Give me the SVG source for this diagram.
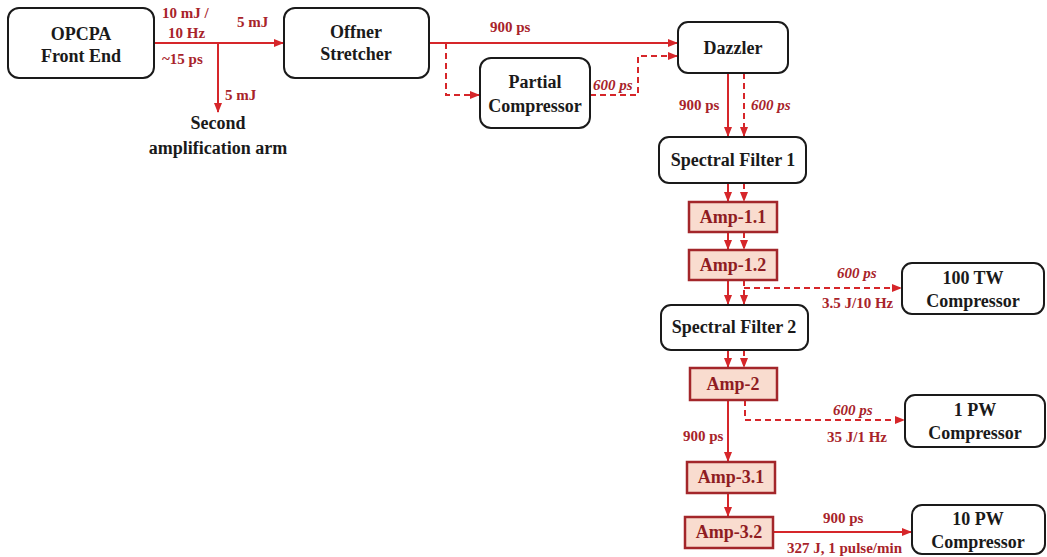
<svg xmlns="http://www.w3.org/2000/svg" width="1047" height="557" viewBox="0 0 1047 557">
<style>
.box{fill:#fff;stroke:#1a1a1a;stroke-width:2}
.amp{fill:#f9dccf;stroke:#a3262a;stroke-width:2.5}
text{font-family:'Liberation Serif','Times New Roman',Times,'DejaVu Serif',serif;font-weight:bold}
.nt{font-size:18px;fill:#1a1a1a;text-anchor:middle}
.at{font-size:18px;fill:#8f1c22;text-anchor:middle}
.lb{font-size:15px;fill:#a8232a}
.it{font-style:italic}
.s{fill:none;stroke:#d6262a;stroke-width:2}
.d{fill:none;stroke:#d6262a;stroke-width:2;stroke-dasharray:6 4}
</style>
<defs>
<marker id="ah" markerUnits="userSpaceOnUse" markerWidth="10" markerHeight="8" refX="9" refY="4" orient="auto">
<path d="M0,0 L10,4 L0,8 Z" fill="#d6262a"/>
</marker>
</defs>
<g id="connectors">
<path class="s" d="M154,43 H283" marker-end="url(#ah)"/>
<path class="s" d="M218,43 V112" marker-end="url(#ah)"/>
<path class="s" d="M429,43 H677" marker-end="url(#ah)"/>
<path class="d" d="M446,43 V95 H479" marker-end="url(#ah)"/>
<path class="d" d="M590,95 H638 V56 H677" marker-end="url(#ah)"/>
<path class="s" d="M728,73 V136" marker-end="url(#ah)"/>
<path class="d" d="M744,73 V136" marker-end="url(#ah)"/>
<path class="s" d="M728,183 V201" marker-end="url(#ah)"/>
<path class="d" d="M744,183 V201" marker-end="url(#ah)"/>
<path class="s" d="M728,232 V249" marker-end="url(#ah)"/>
<path class="d" d="M744,232 V249" marker-end="url(#ah)"/>
<path class="s" d="M728,280 V304" marker-end="url(#ah)"/>
<path class="d" d="M744,280 V304" marker-end="url(#ah)"/>
<path class="d" d="M744,288 H901" marker-end="url(#ah)"/>
<path class="s" d="M728,350 V367" marker-end="url(#ah)"/>
<path class="d" d="M744,350 V367" marker-end="url(#ah)"/>
<path class="d" d="M745,400 V420 H904" marker-end="url(#ah)"/>
<path class="s" d="M728,400 V461" marker-end="url(#ah)"/>
<path class="s" d="M728,493 V516" marker-end="url(#ah)"/>
<path class="s" d="M773,532 H911" marker-end="url(#ah)"/>
</g>
<g id="labels">
<text class="lb" x="162" y="18">10 mJ /</text>
<text class="lb" x="168" y="38">10 Hz</text>
<text class="lb" x="162" y="64">~15 ps</text>
<text class="lb" x="237" y="27">5 mJ</text>
<text class="lb" x="225" y="100">5 mJ</text>
<text class="nt" x="218" y="129">Second</text>
<text class="nt" x="218" y="154">amplification arm</text>
<text class="lb" x="490" y="32">900 ps</text>
<text class="lb it" x="593" y="90">600 ps</text>
<text class="lb" x="679" y="110">900 ps</text>
<text class="lb it" x="751" y="110">600 ps</text>
<text class="lb it" x="837" y="278">600 ps</text>
<text class="lb" x="822" y="308">3.5 J/10 Hz</text>
<text class="lb it" x="833" y="415">600 ps</text>
<text class="lb" x="827" y="442">35 J/1 Hz</text>
<text class="lb" x="683" y="441">900 ps</text>
<text class="lb" x="823" y="523">900 ps</text>
<text class="lb" x="787" y="553">327 J, 1 pulse/min</text>
</g>
<g id="opcpa"><rect class="box" x="8" y="8" width="146" height="70" rx="11"/><text class="nt" x="81" y="40">OPCPA</text><text class="nt" x="81" y="62">Front End</text></g>
<g id="offner"><rect class="box" x="284" y="8" width="145" height="70" rx="11"/><text class="nt" x="356" y="38">Offner</text><text class="nt" x="356" y="60">Stretcher</text></g>
<g id="dazzler"><rect class="box" x="678" y="22" width="110" height="51" rx="10"/><text class="nt" x="733" y="54">Dazzler</text></g>
<g id="partial"><rect class="box" x="480" y="58" width="110" height="70" rx="11"/><text class="nt" x="535" y="88">Partial</text><text class="nt" x="535" y="112">Compressor</text></g>
<g id="sf1"><rect class="box" x="659" y="137" width="147" height="46" rx="10"/><text class="nt" x="733" y="166">Spectral Filter 1</text></g>
<g id="amp11"><rect class="amp" x="689" y="202" width="88" height="30"/><text class="at" x="733" y="223">Amp-1.1</text></g>
<g id="amp12"><rect class="amp" x="689" y="250" width="88" height="30"/><text class="at" x="733" y="271">Amp-1.2</text></g>
<g id="tw100"><rect class="box" x="902" y="263" width="142" height="51" rx="10"/><text class="nt" x="973" y="284">100 TW</text><text class="nt" x="973" y="307">Compressor</text></g>
<g id="sf2"><rect class="box" x="661" y="305" width="147" height="45" rx="10"/><text class="nt" x="734" y="333">Spectral Filter 2</text></g>
<g id="amp2"><rect class="amp" x="690" y="368" width="87" height="32"/><text class="at" x="733" y="390">Amp-2</text></g>
<g id="pw1"><rect class="box" x="905" y="395" width="140" height="52" rx="10"/><text class="nt" x="975" y="416">1 PW</text><text class="nt" x="975" y="439">Compressor</text></g>
<g id="amp31"><rect class="amp" x="687" y="462" width="88" height="31"/><text class="at" x="731" y="483">Amp-3.1</text></g>
<g id="amp32"><rect class="amp" x="685" y="517" width="88" height="31"/><text class="at" x="729" y="538">Amp-3.2</text></g>
<g id="pw10"><rect class="box" x="912" y="505" width="133" height="49" rx="10"/><text class="nt" x="978" y="525">10 PW</text><text class="nt" x="978" y="548">Compressor</text></g>
</svg>
